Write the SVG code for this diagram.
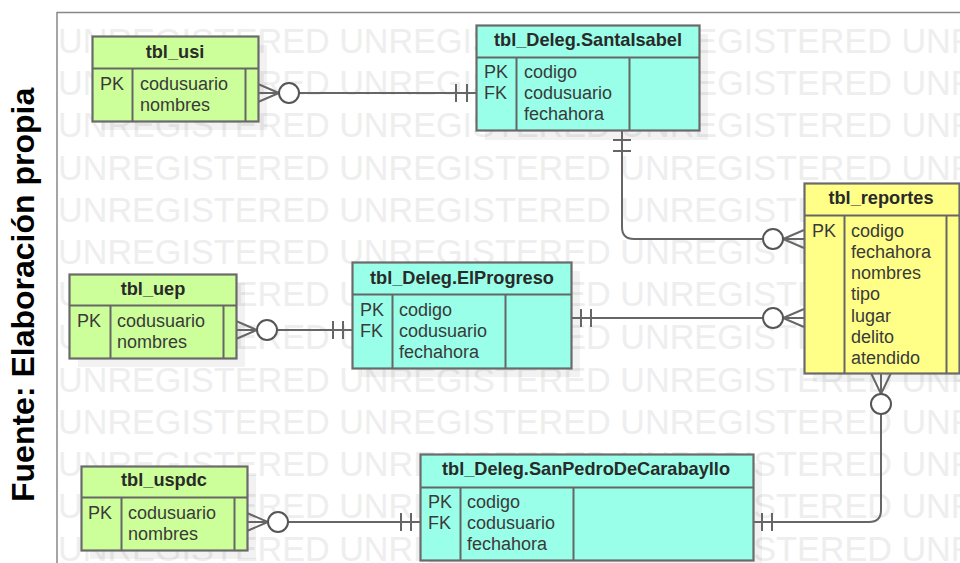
<svg xmlns="http://www.w3.org/2000/svg" width="960" height="563" viewBox="0 0 960 563">
<style>
text{font-family:"Liberation Sans",Arial,sans-serif}
.wm{font-size:34.2px;fill:#eeeeee}
.sh{fill:#000;fill-opacity:.05;stroke:none}
.box{stroke:#6a6a6a;stroke-width:2.2}
.g{fill:#ccff99}.c{fill:#99ffe8}.y{fill:#ffff88}
.ln{stroke:#666;stroke-width:2;fill:none}
.t{font-size:18.2px;font-weight:bold;fill:#2a2a2a;text-anchor:middle}
.b{font-size:18px;fill:#3a3a3a}
.cn path,.cn line{stroke:#666;stroke-width:2;fill:none}
.cn circle{stroke:#555;stroke-width:2;fill:#fff}
.cap{font-size:32px;font-weight:bold;fill:#000}
</style>
<defs><clipPath id="f"><rect x="58" y="13" width="902" height="550"/></clipPath></defs>
<rect width="960" height="563" fill="#fff"/>
<g id="watermark" clip-path="url(#f)" class="wm">
<text x="58" y="53">UNREGISTERED UNREGISTERED UNREGISTERED UNR</text>
<text x="58" y="95">UNREGISTERED UNREGISTERED UNREGISTERED UNR</text>
<text x="58" y="137">UNREGISTERED UNREGISTERED UNREGISTERED UNR</text>
<text x="58" y="180">UNREGISTERED UNREGISTERED UNREGISTERED UNR</text>
<text x="58" y="222">UNREGISTERED UNREGISTERED UNREGISTERED UNR</text>
<text x="58" y="264">UNREGISTERED UNREGISTERED UNREGISTERED UNR</text>
<text x="58" y="306">UNREGISTERED UNREGISTERED UNREGISTERED UNR</text>
<text x="58" y="349">UNREGISTERED UNREGISTERED UNREGISTERED UNR</text>
<text x="58" y="392">UNREGISTERED UNREGISTERED UNREGISTERED UNR</text>
<text x="58" y="434">UNREGISTERED UNREGISTERED UNREGISTERED UNR</text>
<text x="58" y="476">UNREGISTERED UNREGISTERED UNREGISTERED UNR</text>
<text x="58" y="518">UNREGISTERED UNREGISTERED UNREGISTERED UNR</text>
<text x="58" y="561">UNREGISTERED UNREGISTERED UNREGISTERED UNR</text>
</g>
<path d="M57 563V12.500H960" fill="none" stroke="#888" stroke-width="1.500"/>
<text class="cap" transform="translate(34 502) rotate(-90)">Fuente: Elaboración propia</text>
<g class="sh">
<rect x="101" y="45" width="166" height="85"/>
<rect x="485" y="34" width="223" height="106"/>
<rect x="813" y="192" width="147" height="190"/>
<rect x="78" y="283" width="167" height="84"/>
<rect x="361" y="271" width="219" height="106"/>
<rect x="90" y="475" width="166" height="84"/>
<rect x="429" y="463" width="333" height="100"/>
</g>
<g id="connectors" class="cn">
<path d="M299 93H476M456 84V102M467 84V102M258 84L279 93L258 102M258 93H279"/><circle cx="289" cy="93" r="10"/>
<path d="M622 131V227Q622 239 634 239H763M613 140H631M613 151H631M804 230L783 239L804 248M804 239H783"/><circle cx="773" cy="239" r="10"/>
<path d="M571 318H763M581 309V327M591 309V327M804 309L783 318L804 327M804 318H783"/><circle cx="773" cy="318" r="10"/>
<path d="M277 330H352M333 321V339M343 321V339M236 321L257 330L236 339M236 330H257"/><circle cx="267" cy="330" r="10"/>
<path d="M288 522H420M401 513V531M411 513V531M247 513L268 522L247 531M247 522H268"/><circle cx="278" cy="522" r="10"/>
<path d="M753 522H869Q881 522 881 510V414M762 513V531M772 513V531M871 373L881 394L891 373M881 373V394"/><circle cx="881" cy="404" r="10"/>
</g>
<g id="tbl_usi">
<rect class="box g" x="92.500" y="36.500" width="166" height="85"/>
<path class="ln" d="M92.500 68.500H258.500M132.500 68.500V121.500M245.500 68.500V121.500"/>
<text class="t" x="175" y="58">tbl_usi</text>
<text class="b" x="100" y="90">PK</text>
<text class="b" x="140" y="90">codusuario</text>
<text class="b" x="140" y="111">nombres</text>
</g>
<g id="tbl_Deleg_SantaIsabel">
<rect class="box c" x="476.500" y="25.500" width="223" height="105"/>
<path class="ln" d="M476.500 57.500H699.500M516.500 57.500V130.500M629.500 57.500V130.500"/>
<text class="t" x="588" y="46">tbl_Deleg.SantaIsabel</text>
<text class="b" x="484" y="78">PK</text>
<text class="b" x="484" y="99">FK</text>
<text class="b" x="524" y="78">codigo</text>
<text class="b" x="524" y="99">codusuario</text>
<text class="b" x="524" y="120">fechahora</text>
</g>
<g id="tbl_reportes">
<rect class="box y" x="804.500" y="183.500" width="155" height="190"/>
<path class="ln" d="M804.500 215.500H959.500M844.500 215.500V373.500M946.500 215.500V373.500"/>
<text class="t" x="881" y="204">tbl_reportes</text>
<text class="b" x="812" y="237">PK</text>
<text class="b" x="851" y="237">codigo</text>
<text class="b" x="851" y="258">fechahora</text>
<text class="b" x="851" y="279">nombres</text>
<text class="b" x="851" y="300">tipo</text>
<text class="b" x="851" y="322">lugar</text>
<text class="b" x="851" y="343">delito</text>
<text class="b" x="851" y="364">atendido</text>
</g>
<g id="tbl_uep">
<rect class="box g" x="69.500" y="274.500" width="167" height="84"/>
<path class="ln" d="M69.500 305.500H236.500M110.500 305.500V358.500M223.500 305.500V358.500"/>
<text class="t" x="153" y="295">tbl_uep</text>
<text class="b" x="77" y="327">PK</text>
<text class="b" x="117" y="327">codusuario</text>
<text class="b" x="117" y="348">nombres</text>
</g>
<g id="tbl_Deleg_ElProgreso">
<rect class="box c" x="352.500" y="262.500" width="219" height="106"/>
<path class="ln" d="M352.500 294.500H571.500M392.500 294.500V368.500M505.500 294.500V368.500"/>
<text class="t" x="462" y="284">tbl_Deleg.ElProgreso</text>
<text class="b" x="360" y="316">PK</text>
<text class="b" x="360" y="337">FK</text>
<text class="b" x="399" y="316">codigo</text>
<text class="b" x="399" y="337">codusuario</text>
<text class="b" x="399" y="358">fechahora</text>
</g>
<g id="tbl_uspdc">
<rect class="box g" x="81.500" y="466.500" width="166" height="84"/>
<path class="ln" d="M81.500 497.500H247.500M121.500 497.500V550.500M234.500 497.500V550.500"/>
<text class="t" x="164" y="486">tbl_uspdc</text>
<text class="b" x="88" y="519">PK</text>
<text class="b" x="128" y="519">codusuario</text>
<text class="b" x="128" y="540">nombres</text>
</g>
<g id="tbl_Deleg_SanPedroDeCarabayllo">
<rect class="box c" x="420.500" y="454.500" width="333" height="106"/>
<path class="ln" d="M420.500 487.500H753.500M460.500 487.500V560.500M573.500 487.500V560.500"/>
<text class="t" x="586" y="475">tbl_Deleg.SanPedroDeCarabayllo</text>
<text class="b" x="428" y="508">PK</text>
<text class="b" x="428" y="529">FK</text>
<text class="b" x="467" y="508">codigo</text>
<text class="b" x="467" y="529">codusuario</text>
<text class="b" x="467" y="550">fechahora</text>
</g>
</svg>
